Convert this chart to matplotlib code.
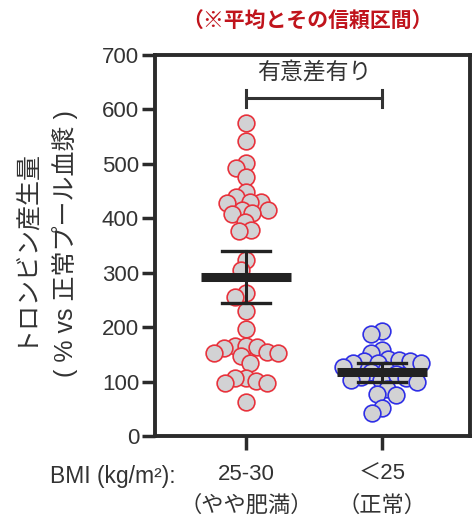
import numpy as np
import matplotlib
matplotlib.use("Agg")
import matplotlib.pyplot as plt

plt.rcParams['font.family'] = ['Liberation Sans', 'Noto Sans CJK JP', 'DejaVu Sans']

# data
groups = ['25-30\n（やや肥満）', '＜25\n（正常）']
bmi_high = [575, 542, 501, 493, 476, 449, 440, 430, 430, 429,
            416, 415, 409, 408, 394, 378, 377, 323, 305, 262,
            256, 230, 196, 165, 165, 164, 161, 155, 153, 153,
            147, 135, 107, 106, 101, 98, 98, 63]
bmi_normal = [192, 187, 158, 152, 141, 140, 137, 137, 134, 134,
              134, 127, 121, 118, 113, 109, 106, 103, 102, 100,
              86, 78, 75, 51, 42]
means = [292, 117]
ci_low = [244, 100]
ci_high = [340, 134]
edge_colors = ['#e8323c', '#2f2fe6']

fig = plt.figure(figsize=(4.73, 5.16), dpi=100)
ax = fig.add_axes([155/473, 80/516, 315/473, 381/516])
ax.set_xlim(-0.669, 1.647)
ax.set_ylim(0, 700)

# pixel scales for the swarm layout
px_x = 136.0   # px per x unit
px_y = 381.0 / 700

def swarm(vals, dmin=11.0):
    order = np.argsort(vals)[::-1]
    placed = []
    xs = np.zeros(len(vals))
    for i in order:
        y = vals[i] * px_y
        cands = [0.0]
        for (px, py) in placed:
            dy = abs(py - y)
            if dy < dmin:
                dx = np.sqrt(dmin**2 - dy**2)
                cands += [px + dx, px - dx]
        cands.sort(key=lambda c: (abs(c), c))
        for c in cands:
            ok = all((c - px)**2 + (y - py)**2 >= dmin**2 - 1e-6 for (px, py) in placed)
            if ok:
                break
        placed.append((c, y))
        xs[i] = c / px_x
    return xs

for gi, vals in enumerate([bmi_high, bmi_normal]):
    offs = swarm(vals)
    ax.scatter(gi + offs, vals, s=145, facecolor='#d2d2d4',
               edgecolor=edge_colors[gi], linewidth=1.2, zorder=2)
    ax.plot([gi, gi], [ci_low[gi], ci_high[gi]], color='#222222', lw=2.2, zorder=3)
    for yv in (ci_low[gi], ci_high[gi]):
        ax.plot([gi - 0.176, gi + 0.176], [yv, yv], color='#222222', lw=2.4, zorder=3)
    ax.plot([gi - 0.33, gi + 0.33], [means[gi], means[gi]], color='#222222',
            lw=6.5, solid_capstyle='butt', zorder=4)

# significance bracket
ax.plot([0, 1], [621, 621], color='#333333', lw=2.2)
ax.plot([0, 0], [605, 636], color='#333333', lw=2.2)
ax.plot([1, 1], [605, 636], color='#333333', lw=2.2)
ax.text(0.5, 668, '有意差有り', ha='center', va='center', fontsize=16.5, color='#333333')

for sp in ax.spines.values():
    sp.set_linewidth(2.8)
    sp.set_color('#2b2b2b')

ax.set_yticks(range(0, 701, 100))
ax.set_xticks([0, 1])
ax.set_xticklabels(groups, fontsize=16, color='#333333', linespacing=1.65)
ax.tick_params(axis='y', labelsize=16, labelcolor='#333333', length=9.5, width=2.5,
               color='#2b2b2b', pad=2)
ax.tick_params(axis='x', length=10, width=2.5, color='#2b2b2b', pad=10)

fig.text(176/473, (516-476)/516, 'BMI (kg/m²):', ha='right', va='center',
         fontsize=16.5, color='#333333')
fig.text(22/473, (516-246)/516, 'トロンビン産生量', rotation=90, ha='center',
         va='center', fontsize=18, color='#333333')
fig.text(65/473, (516-244)/516, '( % vs 正常プール血漿 )', rotation=90, ha='center',
         va='center', fontsize=18, color='#333333')
fig.text(307/473, (516-22)/516, '（※平均とその信頼区間）', ha='center', va='center',
         fontsize=15, fontweight='bold', color='#c0141c')

fig.savefig('out.png', dpi=100)
